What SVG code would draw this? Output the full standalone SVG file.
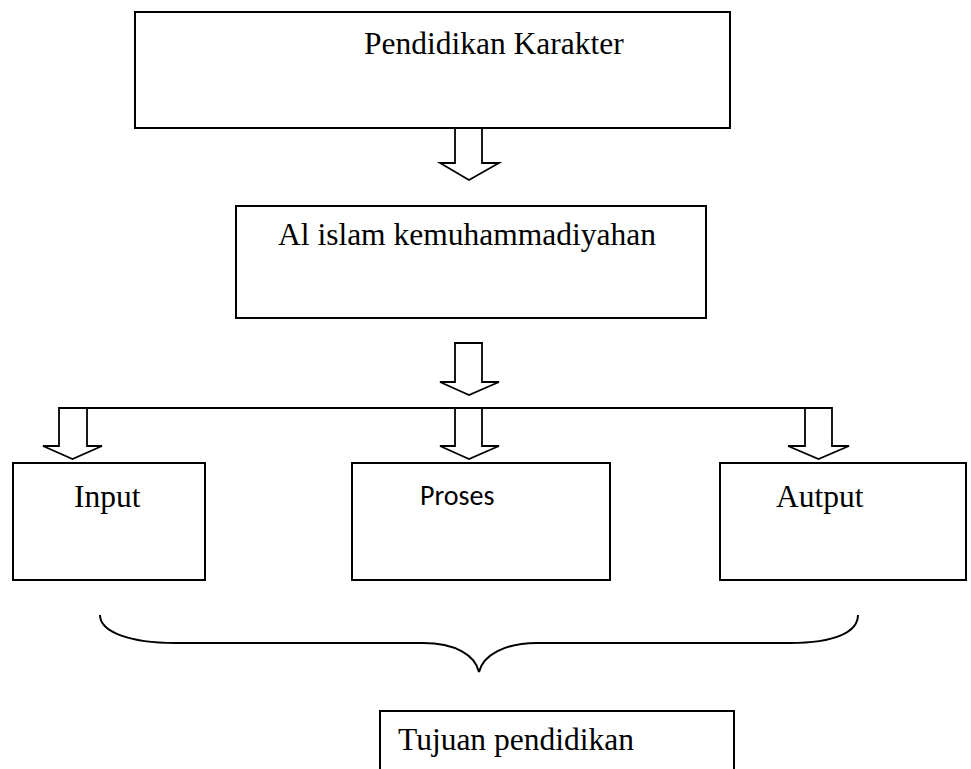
<svg xmlns="http://www.w3.org/2000/svg" width="971" height="769" viewBox="0 0 971 769">
<style>
.box{fill:#fff;stroke:#000;stroke-width:2}
.arr{fill:#fff;stroke:#000;stroke-width:1.8;stroke-linejoin:miter}
.ln{fill:none;stroke:#000;stroke-width:2}
.t{font-family:"Liberation Serif","Times New Roman",serif;font-size:31.5px;fill:#000}
.s{font-family:Carlito,Lato,"Liberation Sans",sans-serif;font-size:28px;fill:#000}
</style>
<rect width="971" height="769" fill="#fff"/>
<g id="n1"><rect class="box" x="135" y="12" width="595" height="116"/><text class="t" x="364" y="54">Pendidikan Karakter</text></g>
<g id="n2"><rect class="box" x="236" y="206" width="470" height="112"/><text class="t" x="278" y="245">Al islam kemuhammadiyahan</text></g>
<g id="n3"><rect class="box" x="13" y="463" width="192" height="117"/><text class="t" x="74" y="507">Input</text></g>
<g id="n4"><rect class="box" x="352" y="463" width="258" height="117"/><text class="s" x="420" y="505">Proses</text></g>
<g id="n5"><rect class="box" x="720" y="463" width="246" height="117"/><text class="t" x="776" y="507">Autput</text></g>
<g id="n6"><rect class="box" x="380" y="711" width="354" height="80"/><text class="t" x="398" y="750">Tujuan pendidikan</text></g>
<g id="connectors">
<polygon class="arr" points="455,128 482,128 482,163 499,163 469,180 440,163 455,163"/>
<polygon class="arr" points="455,343 482,343 482,382 499,382 469,395 440,382 455,382"/>
<line class="ln" x1="59" y1="408" x2="832" y2="408"/>
<polygon class="arr" points="59,408 87,408 87,446 102,446 72.5,459 43,446 59,446"/>
<polygon class="arr" points="455,408 482,408 482,446 499,446 469,459 440,446 455,446"/>
<polygon class="arr" points="805,408 832,408 832,446 849,446 818.5,459 788,446 805,446"/>
<path class="ln" d="M100,615 C100,632 130,643 175,643 L423,643 C455,643 475,655 479,672 C483,655 505,643 537,643 L790,643 C835,643 858,632 858,615"/>
</g>
</svg>
